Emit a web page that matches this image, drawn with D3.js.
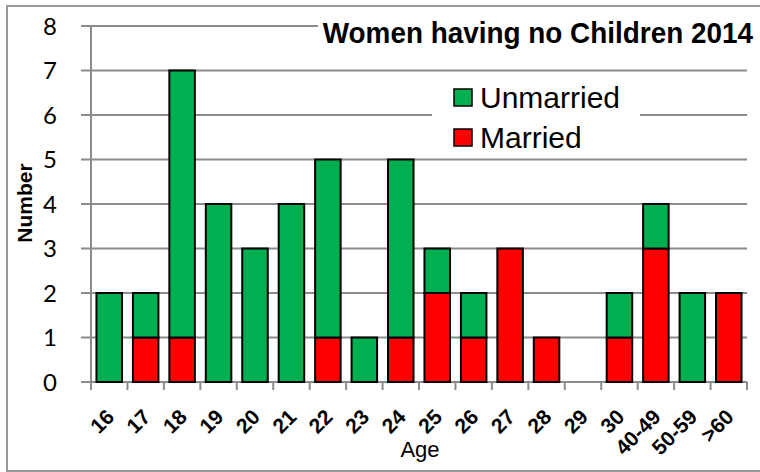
<!DOCTYPE html>
<html>
<head>
<meta charset="utf-8">
<script src="https://cdn.jsdelivr.net/npm/d3@7"></script>
<style>
  body { margin: 0; background: #fff; }
  svg text { font-family: "Liberation Sans Narrow", "Arial Narrow", "Liberation Sans", sans-serif; }
</style>
</head>
<body>
<div id="chart"></div>
<script>
// DATA
const ages = ['16', '17', '18', '19', '20', '21', '22', '23', '24', '25', '26', '27', '28', '29', '30', '40-49', '50-59', '>60'];
const married = [0, 1, 1, 0, 0, 0, 1, 0, 1, 2, 1, 3, 1, 0, 1, 3, 0, 2];
const unmarried = [2, 1, 6, 4, 3, 4, 4, 1, 4, 1, 1, 0, 0, 0, 1, 1, 2, 0];
const yTicks = [0, 1, 2, 3, 4, 5, 6, 7, 8];
const seriesNames = ['Married', 'Unmarried'];
const seriesColors = ['#ff0000', '#00b050'];

// PLOT DEFAULTS
const SVG_WIDTH = 760;
const SVG_HEIGHT = 472;
const PLOT = { left: 91, right: 747, top: 26, bottom: 382 };

const svg = d3.select('#chart')
  .append('svg')
  .attr('width', SVG_WIDTH)
  .attr('height', SVG_HEIGHT);

// outer frame
svg.append('rect')
  .attr('x', 7).attr('y', 6)
  .attr('width', 760).attr('height', 465)
  .attr('fill', '#fff')
  .attr('stroke', '#999')
  .attr('stroke-width', 2);

const xScale = d3.scaleBand()
  .domain(ages)
  .range([PLOT.left, PLOT.right])
  .paddingInner(0.3)
  .paddingOuter(0.15);

const yScale = d3.scaleLinear()
  .domain([0, 8])
  .range([PLOT.bottom, PLOT.top]);

// gridlines
svg.append('g')
  .selectAll('line')
  .data(yTicks)
  .join('line')
  .attr('x1', PLOT.left - 10)
  .attr('x2', PLOT.right)
  .attr('y1', d => yScale(d))
  .attr('y2', d => yScale(d))
  .attr('stroke', '#8c8c8c')
  .attr('stroke-width', 2);

// y axis line
svg.append('line')
  .attr('x1', PLOT.left).attr('x2', PLOT.left)
  .attr('y1', PLOT.top).attr('y2', PLOT.bottom)
  .attr('stroke', '#8c8c8c')
  .attr('stroke-width', 2);

// y tick labels
svg.append('g')
  .selectAll('text')
  .data(yTicks)
  .join('text')
  .attr('x', 57)
  .attr('y', d => yScale(d))
  .attr('dy', '0.36em')
  .attr('text-anchor', 'end')
  .style('font-family', 'Lato, "Open Sans", sans-serif')
  .style('font-size', '24px')
  .text(d => d);

// x tick marks at band edges
const step = xScale.step();
const edges = ages.map((d, i) => PLOT.left + i * step).concat([PLOT.right]);
svg.append('g')
  .selectAll('line')
  .data(edges)
  .join('line')
  .attr('x1', d => d).attr('x2', d => d)
  .attr('y1', PLOT.bottom).attr('y2', PLOT.bottom + 8)
  .attr('stroke', '#8c8c8c')
  .attr('stroke-width', 2);

// stacked bars
const rows = ages.map((a, i) => ({ age: a, Married: married[i], Unmarried: unmarried[i] }));
const stacked = d3.stack().keys(seriesNames)(rows);

svg.append('g')
  .selectAll('g')
  .data(stacked)
  .join('g')
  .attr('fill', (d, i) => seriesColors[i])
  .selectAll('rect')
  .data(d => d.filter(s => s[1] > s[0]))
  .join('rect')
  .attr('x', d => xScale(d.data.age))
  .attr('y', d => yScale(d[1]))
  .attr('width', xScale.bandwidth())
  .attr('height', d => yScale(d[0]) - yScale(d[1]))
  .attr('stroke', '#000')
  .attr('stroke-width', 2);

// x tick labels
svg.append('g')
  .selectAll('text')
  .data(ages)
  .join('text')
  .attr('transform', d => `translate(${xScale(d) + xScale.bandwidth() / 2 + 1}, 413) rotate(-45)`)
  .attr('text-anchor', 'end')
  .attr('dy', '0.35em')
  .style('font-family', '"Liberation Sans", Arial, sans-serif')
  .style('font-weight', 'bold')
  .style('font-size', '21px')
  .text(d => d);

// axis titles
svg.append('text')
  .attr('x', 420).attr('y', 457)
  .attr('text-anchor', 'middle')
  .style('font-size', '22px')
  .text('Age');

svg.append('text')
  .attr('transform', 'translate(32, 203) rotate(-90)')
  .attr('text-anchor', 'middle')
  .style('font-weight', 'bold')
  .style('font-size', '21px')
  .text('Number');

// title with white backing
svg.append('rect')
  .attr('x', 318).attr('y', 14)
  .attr('width', 440).attr('height', 36)
  .attr('fill', '#fff');
svg.append('text')
  .attr('transform', 'translate(753, 43) scale(0.93, 1)')
  .attr('text-anchor', 'end')
  .style('font-weight', 'bold')
  .style('font-size', '30px')
  .text('Women having no Children 2014');

// legend
const legend = svg.append('g');
legend.append('rect')
  .attr('x', 432).attr('y', 78)
  .attr('width', 208).attr('height', 80)
  .attr('fill', '#fff');
const legendItems = [
  { name: 'Unmarried', color: '#00b050' },
  { name: 'Married', color: '#ff0000' }
];
const li = legend.selectAll('g')
  .data(legendItems)
  .join('g')
  .attr('transform', (d, i) => `translate(453, ${97 + i * 40})`);
li.append('rect')
  .attr('x', 1).attr('y', -8)
  .attr('width', 18).attr('height', 17)
  .attr('fill', d => d.color)
  .attr('stroke', '#000')
  .attr('stroke-width', 1.5);
li.append('text')
  .attr('x', 27).attr('y', 0)
  .attr('dy', '0.36em')
  .style('font-size', '30px')
  .text(d => d.name);
</script>
</body>
</html>
